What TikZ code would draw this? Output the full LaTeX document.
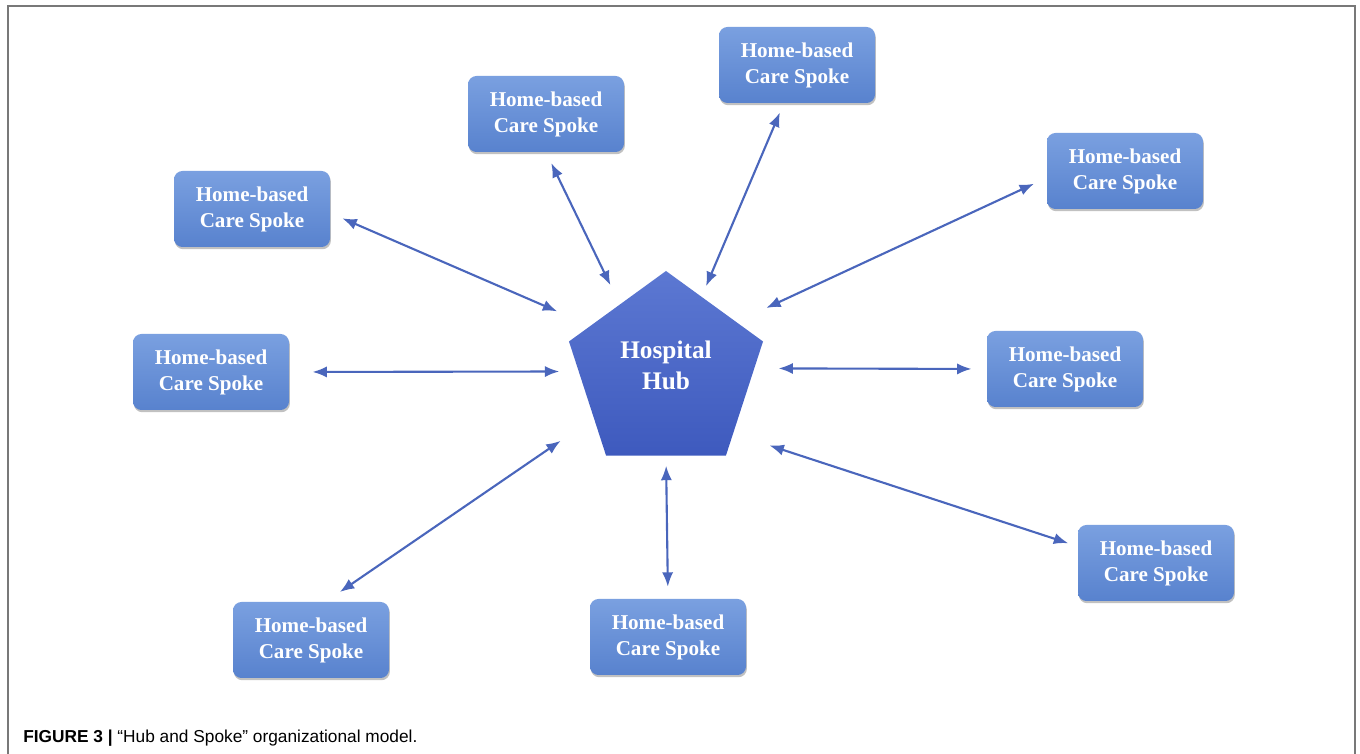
\documentclass[tikz,border=0pt]{standalone}
\usepackage{fontspec}
\setmainfont{Liberation Serif}
\newfontfamily\capfont{Liberation Sans}
\usepackage{tikz}
\usetikzlibrary{shapes.geometric, shadows, arrows.meta}

\definecolor{spoketop}{RGB}{122,160,224}
\definecolor{spokebot}{RGB}{88,130,206}
\definecolor{hubtop}{RGB}{92,120,210}
\definecolor{hubbot}{RGB}{62,90,190}
\definecolor{linkblue}{RGB}{74,102,188}
\definecolor{framegray}{RGB}{120,120,120}

\tikzset{
  spokebox/.style={rectangle, rounded corners=6pt, minimum width=3.9cm, minimum height=1.9cm,
    top color=spoketop, bottom color=spokebot, draw=none, text=white, align=center,
    font={\bfseries\fontsize{15}{18.5}\selectfont},
    drop shadow={shadow xshift=0.6pt, shadow yshift=-1.6pt, opacity=0.35, fill=black!70}},
  hubnode/.style={regular polygon, regular polygon sides=5, minimum size=5.1cm, inner sep=0pt,
    top color=hubtop, bottom color=hubbot, draw=none, text=white, align=center,
    font={\bfseries\fontsize{18}{22}\selectfont}},
  twoway/.style={{Latex[length=3.6mm,width=2.8mm]}-{Latex[length=3.6mm,width=2.8mm]},
    draw=linkblue, line width=1.5pt}
}

\begin{document}
\begin{tikzpicture}
      \useasboundingbox (0,0) rectangle (34,18.85);
      \draw[framegray, line width=0.9pt] (0.2,0)--(0.2,18.7)--(33.875,18.7)--(33.875,0);

      \node[hubnode] (hub) at (16.65, 9.525) {Hospital\\Hub\\[-11pt]};

      % spokes, clockwise from top left
      \node[spokebox] (s1) at (6.3, 13.625) {Home-based\\Care Spoke};
      \node[spokebox] (s2) at (13.65, 16.0) {Home-based\\Care Spoke};
      \node[spokebox] (s3) at (19.925, 17.225) {Home-based\\Care Spoke};
      \node[spokebox] (s4) at (28.125, 14.575) {Home-based\\Care Spoke};
      \node[spokebox] (s6) at (26.625, 9.625) {Home-based\\Care Spoke};
      \node[spokebox] (s9) at (28.9, 4.775) {Home-based\\Care Spoke};
      \node[spokebox] (s8) at (16.7, 2.925) {Home-based\\Care Spoke};
      \node[spokebox] (s7) at (7.775, 2.85) {Home-based\\Care Spoke};
      \node[spokebox] (s5) at (5.275, 9.55) {Home-based\\Care Spoke};

      \draw[twoway, shorten <=0.33cm, shorten >=0.9cm] (s1.-3) -- (hub.148);
      \draw[twoway, shorten <=0.3cm, shorten >=0.53cm] (s2.-90) -- (hub.124);
      \draw[twoway, shorten <=0.25cm, shorten >=0.28cm] (s3.251) -- (hub.65);
      \draw[twoway, shorten <=0.35cm, shorten >=0.82cm] (s4.185.6) -- (hub.36.5);
      \draw[twoway, shorten <=0.58cm, shorten >=0.48cm] (s5.0) -- (hub.179);
      \draw[twoway, shorten <=0.38cm, shorten >=0.6cm] (s6.180) -- (hub.3);
      \draw[twoway, shorten <=0.43cm, shorten >=1.0cm] (s7.69.7) -- (hub.212.7);
      \draw[twoway, shorten <=0.3cm, shorten >=0.25cm] (s8.90) -- (hub.270);
      \draw[twoway, shorten <=0.25cm, shorten >=0.95cm] (s9.168.4) -- (hub.318.5);

      \node[anchor=base west, inner sep=0pt, font={\capfont\fontsize{12.3}{14}\selectfont}] (cap) at (0.575, 0.28)
        {\textbf{FIGURE 3 |} “Hub and Spoke” organizational model.};
\end{tikzpicture}
\end{document}
